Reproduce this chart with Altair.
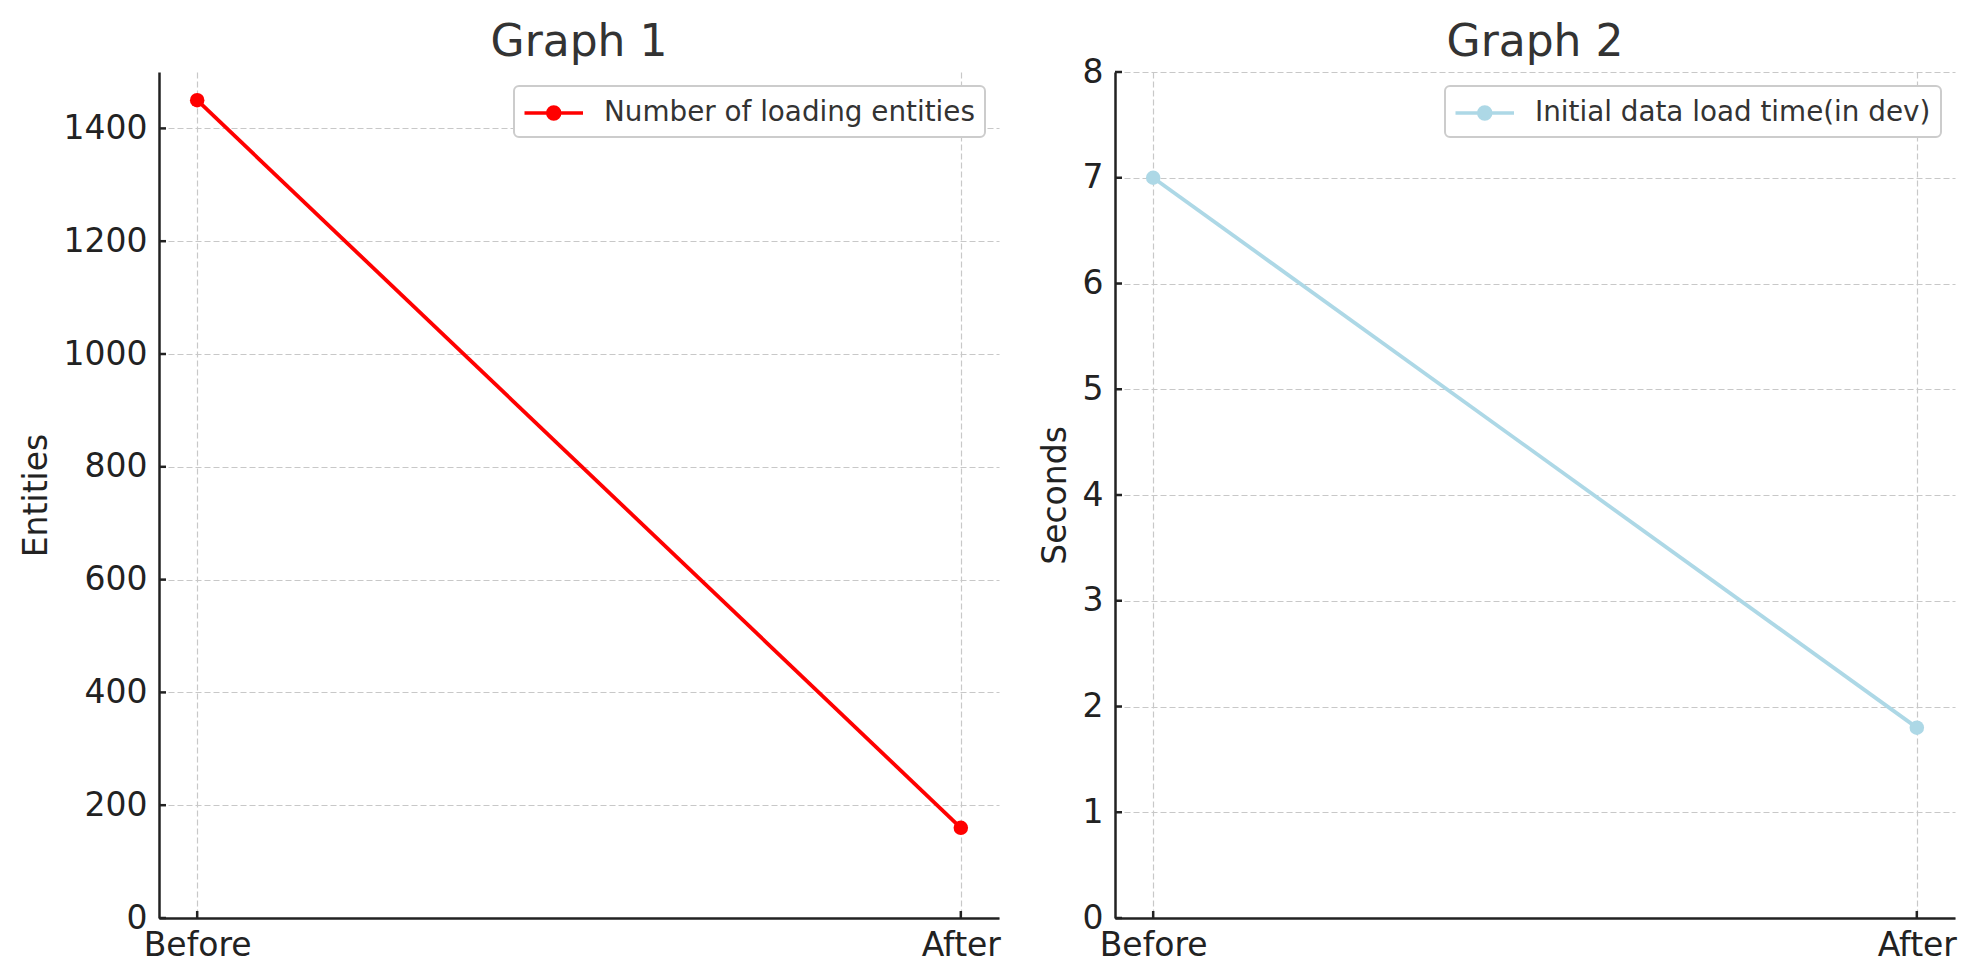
import altair as alt
import pandas as pd

# ---- data ----
stages = ["Before", "After"]
stage_pos = [0, 1]
entities = [1450, 160]
seconds = [7.0, 1.8]
entity_ticks = [0, 200, 400, 600, 800, 1000, 1200, 1400]
second_ticks = [0, 1, 2, 3, 4, 5, 6, 7, 8]
series1 = "Number of loading entities"
series2 = "Initial data load time(in dev)"
color1 = "#ff0000"
color2 = "#add8e6"

W, H = 840, 846
FONT = "DejaVu Sans"
TXT = "#222222"

# legend symbol: line with a filled circle (unit coordinates, scaled by sqrt(size)/2)
SYM = "M-1.1,0L2.8,0M0.45,0A0.4,0.4,0,1,1,1.25,0A0.4,0.4,0,1,1,0.45,0Z"


def panel(values, ticks, ymax, title, ytitle, series, color, title_offset):
    df = pd.DataFrame({"pos": stage_pos, "stage": stages, "val": values, "series": [series] * 2})
    xscale = alt.Scale(domain=[-0.05, 1.05], nice=False, zero=False)
    yscale = alt.Scale(domain=[0, ymax], nice=False, zero=True)
    label_expr = "datum.value == 0 ? 'Before' : 'After'"
    xaxis = alt.Axis(values=stage_pos, labelExpr=label_expr, grid=True)
    yaxis = alt.Axis(values=ticks, grid=True, format="d")

    line = alt.Chart(df).mark_line(
        strokeWidth=3.8,
        point=alt.OverlayMarkDef(filled=True, size=210, opacity=1),
    ).encode(
        x=alt.X("pos:Q", scale=xscale, title=None, axis=xaxis),
        y=alt.Y("val:Q", scale=yscale, title=ytitle, axis=yaxis),
        color=alt.Color("series:N", scale=alt.Scale(domain=[series], range=[color]),
                        legend=alt.Legend(title=None, orient="top-right", offset=14,
                                          symbolType=SYM, symbolSize=900,
                                          symbolStrokeWidth=3.5,
                                          symbolFillColor=color, symbolStrokeColor=color,
                                          labelOffset=46)),
    )

    ytick_df = pd.DataFrame({"t": ticks})
    yticks = alt.Chart(ytick_df).mark_rule(color=TXT, strokeWidth=2.5).encode(
        y=alt.Y("t:Q", scale=yscale, title=ytitle, axis=yaxis),
        x=alt.value(0), x2=alt.value(7),
    )
    xtick_df = pd.DataFrame({"p": stage_pos})
    xticks = alt.Chart(xtick_df).mark_rule(color=TXT, strokeWidth=2.5).encode(
        x=alt.X("p:Q", scale=xscale, title=None, axis=xaxis),
        y=alt.value(H), y2=alt.value(H - 7),
    )
    return alt.layer(line, yticks, xticks).properties(
        width=W, height=H,
        title=alt.TitleParams(title, fontSize=44, font=FONT, color="#333333",
                              fontWeight="normal", frame="group", anchor="middle",
                              offset=title_offset),
    )


p1 = panel(entities, entity_ticks, 1500, "Graph 1", "Entities", series1, color1, 7)
p2 = panel(seconds, second_ticks, 8, "Graph 2", "Seconds", series2, color2, -9)

chart = alt.hconcat(p1, p2, spacing=38).resolve_scale(color="independent").properties(
    padding={"left": 12, "top": 13, "right": 5, "bottom": 5}
).configure_view(stroke=None).configure_axis(
    labelFont=FONT, titleFont=FONT, labelFontSize=33, titleFontSize=33,
    labelColor=TXT, titleColor=TXT, titleFontWeight="normal",
    domainColor=TXT, domainWidth=2.5, ticks=False, tickSize=0,
    gridColor="#c8c8c8", gridDash=[6, 3], gridWidth=1.2,
    labelPadding=12, titlePadding=10,
).configure_axisX(labelPadding=11).configure_legend(
    padding=10, strokeColor="#cccccc", strokeWidth=2, fillColor="white", cornerRadius=5,
    labelFont=FONT, labelFontSize=27.8, labelColor="#333333", labelLimit=0,
)

chart.save("out.html", embed_options={"renderer": "svg", "actions": False})
